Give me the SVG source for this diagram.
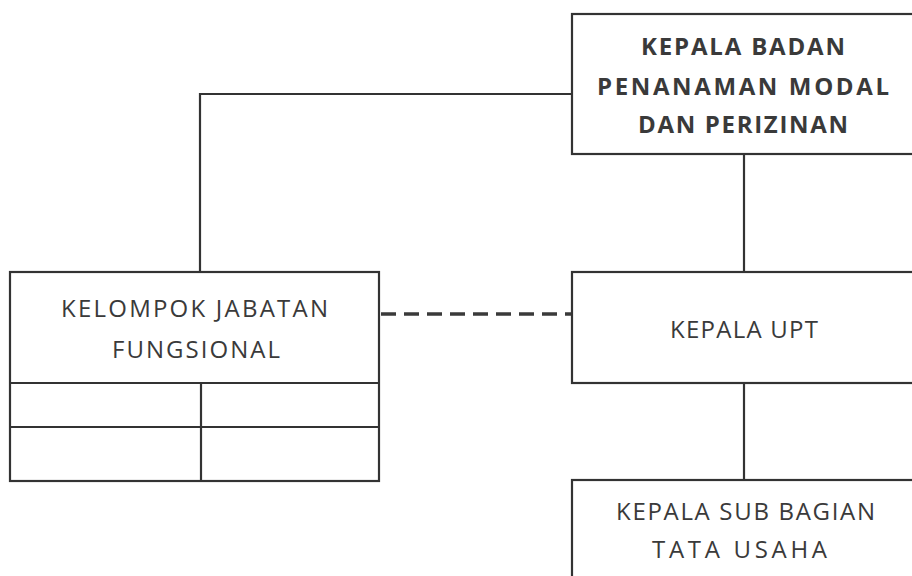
<svg xmlns="http://www.w3.org/2000/svg" width="912" height="576" viewBox="0 0 912 576">
<style>
.box{fill:#fff;stroke:#333;stroke-width:2.2}
.ln{fill:none;stroke:#333;stroke-width:2.2}
.dash{fill:none;stroke:#3a3a3a;stroke-width:3.5;stroke-dasharray:15 8}
.t{font-family:"Open Sans","Liberation Sans",Arial,sans-serif;font-size:24px;fill:#3a3a3a;text-anchor:middle}
.b{font-weight:bold}
</style>
<rect width="912" height="576" fill="#fff"/>
<g id="connectors">
<polyline class="ln" points="572,94 200,94 200,272"/>
<line class="ln" x1="744" y1="154" x2="744" y2="272"/>
<line class="ln" x1="744" y1="383" x2="744" y2="480"/>
<line class="dash" x1="381" y1="314" x2="572" y2="314"/>
</g>
<g id="kepala-badan">
<rect class="box" x="572" y="14" width="350" height="140"/>
<text class="t b" x="743" y="55" textLength="204" lengthAdjust="spacing">KEPALA BADAN</text>
<text class="t b" x="743" y="95" textLength="292" lengthAdjust="spacing">PENANAMAN MODAL</text>
<text class="t b" x="743" y="133" textLength="210" lengthAdjust="spacing">DAN PERIZINAN</text>
</g>
<g id="kelompok-jabatan">
<rect class="box" x="10" y="272" width="369" height="209"/>
<line class="ln" x1="10" y1="383" x2="379" y2="383"/>
<line class="ln" x1="10" y1="427" x2="379" y2="427"/>
<line class="ln" x1="201" y1="383" x2="201" y2="481"/>
<text class="t" x="194.5" y="317" textLength="267" lengthAdjust="spacing">KELOMPOK JABATAN</text>
<text class="t" x="196" y="358" textLength="168" lengthAdjust="spacing">FUNGSIONAL</text>
</g>
<g id="kepala-upt">
<rect class="box" x="572" y="272" width="350" height="111"/>
<text class="t" x="744" y="338" textLength="148" lengthAdjust="spacing">KEPALA UPT</text>
</g>
<g id="kepala-sub-bagian">
<rect class="box" x="572" y="480" width="350" height="110"/>
<text class="t" x="745.5" y="520" textLength="259" lengthAdjust="spacing">KEPALA SUB BAGIAN</text>
<text class="t" x="739.5" y="558" textLength="175" lengthAdjust="spacing">TATA USAHA</text>
</g>
</svg>
